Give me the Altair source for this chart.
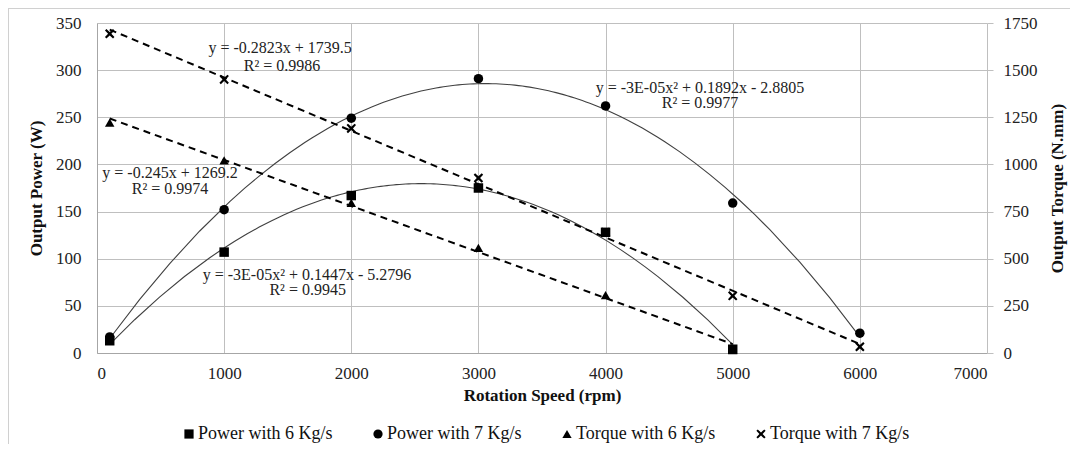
import altair as alt
import pandas as pd

# ---------------- data ----------------
speeds_6 = [100, 1000, 2000, 3000, 4000, 5000]
speeds_7 = [100, 1000, 2000, 3000, 4000, 5000, 6000]
power_6 = [13, 107, 167, 175, 128, 4]
power_7 = [17, 152, 249, 291, 262, 159, 21]
torque_6 = [1222, 1022, 796, 558, 307, 15]
torque_7 = [1693, 1451, 1191, 928, 640, 303, 33]

series_names = ["Power with 6 Kg/s", "Power with 7 Kg/s",
                "Torque with 6 Kg/s", "Torque with 7 Kg/s"]

x_ticks = [0, 1000, 2000, 3000, 4000, 5000, 6000, 7000]
power_ticks = [0, 50, 100, 150, 200, 250, 300, 350]
torque_ticks = [0, 250, 500, 750, 1000, 1250, 1500, 1750]

eq_labels = ["y = -0.2823x + 1739.5", "R\u00b2 = 0.9986",
             "y = -0.245x + 1269.2", "R\u00b2 = 0.9974",
             "y = -3E-05x\u00b2 + 0.1447x - 5.2796", "R\u00b2 = 0.9945",
             "y = -3E-05x\u00b2 + 0.1892x - 2.8805", "R\u00b2 = 0.9977"]
eq_speed = [1440, 1455, 574, 574, 1652, 1657, 4743, 4743]
eq_power = [323, 304, 190.7, 173.7, 82.6, 66.7, 280.7, 264.8]

# ---------------- tables ----------------
power_df = pd.DataFrame({
    "speed": speeds_6 + speeds_7,
    "value": power_6 + power_7,
    "series": [series_names[0]] * len(speeds_6) + [series_names[1]] * len(speeds_7),
})
torque_df = pd.DataFrame({
    "speed": speeds_6 + speeds_7,
    "value": torque_6 + torque_7,
    "series": [series_names[2]] * len(speeds_6) + [series_names[3]] * len(speeds_7),
})
eq_df = pd.DataFrame({"speed": eq_speed, "value": eq_power, "label": eq_labels})

FONT = "Liberation Serif"
X_PATH = ("M-0.7,-1L0,-0.35L0.7,-1L1,-0.7L0.35,0L1,0.7L0.7,1L0,0.35"
          "L-0.7,1L-1,0.7L-0.35,0L-1,-0.7Z")

axis_style = dict(labelFont=FONT, labelFontSize=17, labelColor="#222",
                  titleFont=FONT, titleFontSize=17, titleFontWeight="bold",
                  titleColor="#111", gridColor="#bfbfbf", domainColor="#a6a6a6")

x_enc = alt.X("speed:Q",
              scale=alt.Scale(domain=[0, 7000], nice=False),
              axis=alt.Axis(values=x_ticks, title="Rotation Speed (rpm)", format="d",
                            ticks=False, labelPadding=12, titlePadding=6,
                            grid=True, domain=True, **axis_style))

shape_enc = alt.Shape(
    "series:N",
    scale=alt.Scale(domain=series_names,
                    range=["square", "circle", "triangle-up", X_PATH]),
    legend=alt.Legend(title=None, orient="none", legendX=83, legendY=402,
                      direction="horizontal", columnPadding=36, labelOffset=0,
                      symbolSize=85, symbolFillColor="black", symbolStrokeWidth=0,
                      labelFont=FONT, labelFontSize=18, labelColor="#111",
                      padding=0),
)

power_y = alt.Y("value:Q",
                scale=alt.Scale(domain=[0, 350], nice=False),
                axis=alt.Axis(values=power_ticks, title="Output Power  (W)",
                              format="d", orient="left", ticks=False,
                              labelPadding=16, titlePadding=10, grid=True,
                              domain=True, **axis_style))

torque_y = alt.Y("value:Q",
                 scale=alt.Scale(domain=[0, 1750], nice=False),
                 axis=alt.Axis(values=torque_ticks, title="Output Torque (N.mm)",
                               format="d", orient="right", ticks=True, tickSize=6,
                               tickColor="#bfbfbf", labelPadding=10,
                               titlePadding=12, grid=False, domain=False,
                               titleAngle=270, titleBaseline="top", **axis_style))

power_curves = alt.Chart(power_df).transform_regression(
    "speed", "value", groupby=["series"], method="poly", order=2
).mark_line(color="#404040", strokeWidth=1.1).encode(
    x=x_enc, y=power_y, detail="series:N")

power_points = alt.Chart(power_df).mark_point(
    filled=True, color="black", size=90, opacity=1).encode(
    x=x_enc, y=power_y, shape=shape_enc)

eq_text = alt.Chart(eq_df).mark_text(
    font=FONT, fontSize=16, color="#222", align="center", baseline="middle").encode(
    x=x_enc, y=power_y, text="label:N")

torque_lines = alt.Chart(torque_df).transform_regression(
    "speed", "value", groupby=["series"], method="linear"
).mark_line(color="black", strokeWidth=2, strokeDash=[7, 5]).encode(
    x=x_enc, y=torque_y, detail="series:N")

torque_points = alt.Chart(torque_df).mark_point(
    filled=True, color="black", size=90, opacity=1).encode(
    x=x_enc, y=torque_y, shape=shape_enc)

frame_top = alt.Chart(power_df).mark_rule(color="#d0d0d0", strokeWidth=1).encode(
    x=alt.value(-89), x2=alt.value(1000), y=alt.value(-14.5))
frame_left = alt.Chart(power_df).mark_rule(color="#d0d0d0", strokeWidth=1).encode(
    x=alt.value(-88.5), y=alt.value(-15), y2=alt.value(500))

left_layer = alt.layer(power_curves, eq_text, power_points)
right_layer = alt.layer(torque_lines, torque_points)

chart = alt.layer(left_layer, right_layer, frame_top, frame_left).resolve_scale(
    y="independent"
).properties(
    width=890, height=330,
    autosize=alt.AutoSizeParams(type="none"),
    padding={"left": 89, "top": 15, "right": 83, "bottom": 91},
).configure_view(
    stroke="transparent"
).configure_axis(
    labelFont=FONT, labelFontSize=17, labelColor="#222",
    titleFont=FONT, titleFontSize=17, titleFontWeight="bold", titleColor="#111",
    gridColor="#bfbfbf", gridWidth=1, domainColor="#a6a6a6", domainWidth=1,
)

chart.save("out.html", embed_options={"renderer": "svg", "actions": False})
